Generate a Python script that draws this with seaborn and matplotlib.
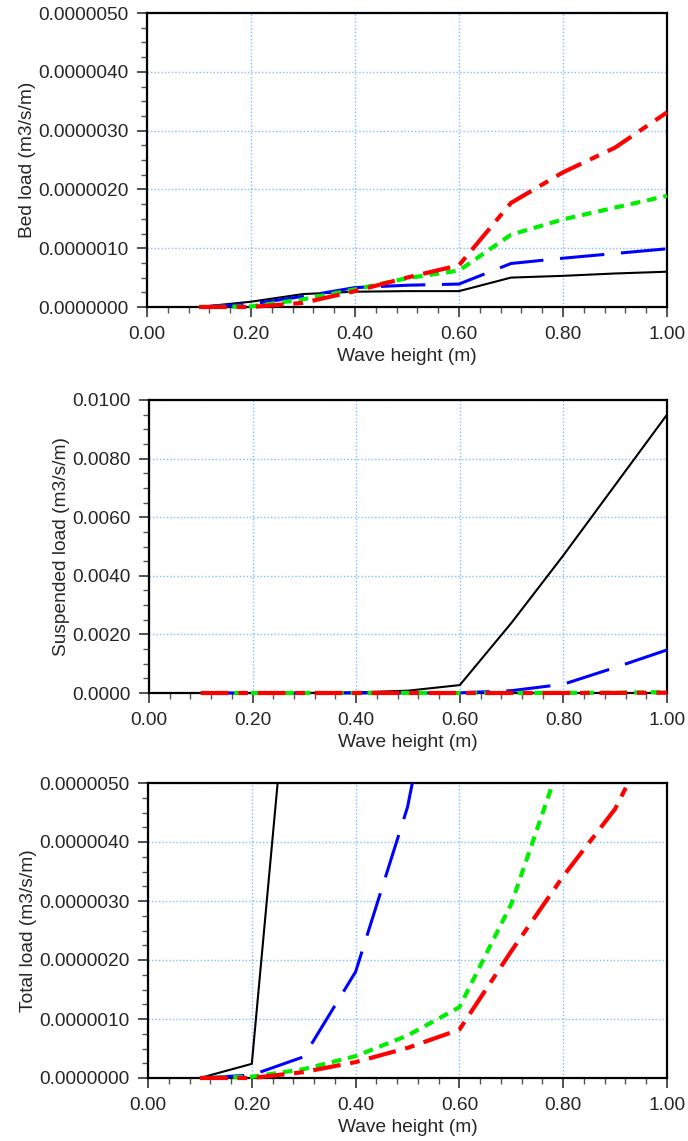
import numpy as np
import pandas as pd
import matplotlib
matplotlib.use("Agg")
import matplotlib.pyplot as plt
from matplotlib.ticker import MultipleLocator, FormatStrFormatter
from matplotlib.patches import Rectangle
import seaborn as sns

# ---------------- data ----------------
wave_height = [0.1, 0.2, 0.3, 0.4, 0.5, 0.6, 0.7, 0.8, 0.9, 1.0]
series_names = ["s1", "s2", "s3", "s4"]

# Bed load (m3/s/m)
bed_s1 = [0.0, 0.09e-6, 0.22e-6, 0.26e-6, 0.27e-6, 0.27e-6, 0.50e-6, 0.53e-6, 0.57e-6, 0.60e-6]
bed_s2 = [0.0, 0.05e-6, 0.18e-6, 0.33e-6, 0.37e-6, 0.39e-6, 0.74e-6, 0.83e-6, 0.91e-6, 0.99e-6]
bed_s3 = [0.0, 0.01e-6, 0.13e-6, 0.30e-6, 0.49e-6, 0.62e-6, 1.23e-6, 1.49e-6, 1.69e-6, 1.89e-6]
bed_s4 = [0.0, 0.0, 0.07e-6, 0.27e-6, 0.50e-6, 0.71e-6, 1.77e-6, 2.29e-6, 2.71e-6, 3.31e-6]

# Suspended load (m3/s/m)
sus_s1 = [0.0, 0.0, 0.0, 0.00002, 0.00008, 0.00027, 0.0024, 0.0047, 0.0071, 0.0095]
sus_s2 = [0.0, 0.0, 0.0, 0.0, 0.0, 0.000005, 0.00008, 0.0003, 0.00087, 0.00147]
sus_s3 = [0.0, 0.0, 0.0, 0.0, 0.0, 0.0, 0.000001, 0.000005, 0.00001, 0.00003]
sus_s4 = [0.0, 0.0, 0.0, 0.0, 0.0, 0.0, 0.0, 0.000001, 0.000003, 0.00001]

# Total load (m3/s/m)
tot_s1 = [0.0, 0.24e-6, 9.8e-6, 2.0e-5, 8.0e-5, 2.7e-4, 2.4e-3, 4.7e-3, 7.1e-3, 9.5e-3]
tot_s2 = [0.0, 0.05e-6, 0.36e-6, 1.80e-6, 4.59e-6, 9.0e-6, 8.0e-5, 3.0e-4, 8.7e-4, 1.47e-3]
tot_s3 = [0.0, 0.02e-6, 0.15e-6, 0.37e-6, 0.72e-6, 1.20e-6, 2.95e-6, 5.5e-6, 7.0e-6, 8.5e-6]
tot_s4 = [0.0, 0.0, 0.10e-6, 0.27e-6, 0.51e-6, 0.82e-6, 2.15e-6, 3.42e-6, 4.56e-6, 6.3e-6]

panel_ylabels = ["Bed load (m3/s/m)", "Suspended load (m3/s/m)", "Total load (m3/s/m)"]
x_label = "Wave height (m)"

# ---------------- style ----------------
sns.set_style("ticks")
plt.rcParams["font.family"] = ["Liberation Sans", "DejaVu Sans"]
plt.rcParams["lines.scale_dashes"] = False
plt.rcParams["axes.unicode_minus"] = False

palette = {"s1": "#000000", "s2": "#0000ff", "s3": "#00ee00", "s4": "#ff0000"}
dashes = {"s1": "", "s2": (32, 12), "s3": (7, 5), "s4": (20, 7, 7, 7)}
sizes = {"s1": 1.5, "s2": 2.2, "s3": 3.0, "s4": 3.0}

def long_df(a, b, c, d):
    rows = []
    for name, vals in zip(series_names, [a, b, c, d]):
        for xv, yv in zip(wave_height, vals):
            rows.append({"x": xv, "y": yv, "series": name})
    return pd.DataFrame(rows)

panels = [
    (long_df(bed_s1, bed_s2, bed_s3, bed_s4), 5e-6, 1e-6, 2.5e-7, "%.7f"),
    (long_df(sus_s1, sus_s2, sus_s3, sus_s4), 0.01, 0.002, 0.0005, "%.4f"),
    (long_df(tot_s1, tot_s2, tot_s3, tot_s4), 5e-6, 1e-6, 2.5e-7, "%.7f"),
]

positions = [
    [147 / 688, 1 - 307 / 1141, 520 / 688, 294 / 1141],
    [149 / 688, 1 - 693 / 1141, 518 / 688, 293 / 1141],
    [148 / 688, 1 - 1078 / 1141, 519 / 688, 295 / 1141],
]

fig = plt.figure(figsize=(6.88, 11.41), dpi=100)
FS = 13.8

for (df, ymax, ymaj, ymin_, fmt), pos, ylab in zip(panels, positions, panel_ylabels):
    ax = fig.add_axes(pos)
    sns.lineplot(data=df, x="x", y="y", hue="series", style="series", size="series",
                 palette=palette, dashes=dashes, sizes=sizes,
                 hue_order=series_names, style_order=series_names, size_order=series_names,
                 legend=False, ax=ax, estimator=None, sort=False)
    clip_rect = Rectangle((-0.01, -0.03), 1.02, 1.03, transform=ax.transAxes)
    for ln in ax.lines:
        ln.set_zorder(3)
        ln.set_clip_path(clip_rect)
    ax.set_xlim(0, 1.0)
    ax.set_ylim(0, ymax)
    ax.xaxis.set_major_locator(MultipleLocator(0.2))
    ax.xaxis.set_minor_locator(MultipleLocator(0.04))
    ax.yaxis.set_major_locator(MultipleLocator(ymaj))
    ax.yaxis.set_minor_locator(MultipleLocator(ymin_))
    ax.xaxis.set_major_formatter(FormatStrFormatter("%.2f"))
    ax.yaxis.set_major_formatter(FormatStrFormatter(fmt))
    ax.grid(True, which="major", color="#7fbfff", linestyle=(0, (1, 1.5)), linewidth=1.0)
    ax.set_axisbelow(True)
    for sp in ax.spines.values():
        sp.set_visible(True)
        sp.set_color("black")
        sp.set_linewidth(1.6)
    ax.tick_params(axis="both", which="major", direction="out", length=7, width=1.2,
                   labelsize=FS, top=False, right=False, color="#333333")
    ax.tick_params(axis="x", which="major", pad=7)
    ax.tick_params(axis="y", which="major", pad=6)
    ax.tick_params(axis="both", which="minor", direction="out", length=4, width=1.0,
                   top=False, right=False, color="#555555")
    ax.set_xlabel(x_label, fontsize=FS, labelpad=3)
    ax.set_ylabel(ylab, fontsize=FS, labelpad=2)

fig.savefig("out.png", dpi=100)
